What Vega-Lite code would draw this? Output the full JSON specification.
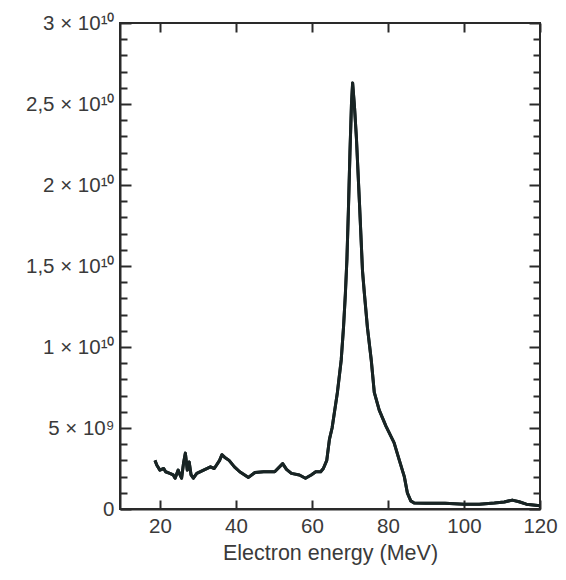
{
  "$schema": "https://vega.github.io/schema/vega-lite/v6.json",
  "autosize": {"type": "none"},
  "padding": {"left": 120, "top": 23, "right": 26, "bottom": 71},
  "width": 420,
  "height": 486,
  "background": "white",
  "config": {
    "view": {"stroke": "#2a2a2a", "strokeWidth": 2},
    "axis": {
      "domainColor": "#2a2a2a",
      "domainWidth": 2,
      "tickColor": "#2a2a2a",
      "tickWidth": 2,
      "grid": false,
      "labelFont": "Liberation Sans",
      "titleFont": "Liberation Sans",
      "labelColor": "#3a3a3a",
      "titleColor": "#3a3a3a",
      "labelFontSize": 20.5,
      "titleFontSize": 21.5,
      "titleFontWeight": "normal"
    }
  },
  "data": {
    "values": [
      {"energy": 18.7, "count": 3.0e9},
      {"energy": 19.2, "count": 2.7e9},
      {"energy": 20.0, "count": 2.4e9},
      {"energy": 21.0, "count": 2.5e9},
      {"energy": 21.5, "count": 2.3e9},
      {"energy": 22.6, "count": 2.2e9},
      {"energy": 23.5, "count": 2.1e9},
      {"energy": 24.0, "count": 1.9e9},
      {"energy": 24.8, "count": 2.4e9},
      {"energy": 25.3, "count": 2.1e9},
      {"energy": 25.7, "count": 1.9e9},
      {"energy": 26.2, "count": 2.8e9},
      {"energy": 26.7, "count": 3.45e9},
      {"energy": 27.2, "count": 2.4e9},
      {"energy": 27.7, "count": 2.9e9},
      {"energy": 28.2, "count": 2.1e9},
      {"energy": 28.8, "count": 1.9e9},
      {"energy": 29.7, "count": 2.2e9},
      {"energy": 31.5, "count": 2.4e9},
      {"energy": 33.3, "count": 2.6e9},
      {"energy": 34.3, "count": 2.5e9},
      {"energy": 35.7, "count": 3.0e9},
      {"energy": 36.3, "count": 3.35e9},
      {"energy": 37.0, "count": 3.2e9},
      {"energy": 38.2, "count": 3.0e9},
      {"energy": 39.6, "count": 2.6e9},
      {"energy": 41.0, "count": 2.3e9},
      {"energy": 42.3, "count": 2.1e9},
      {"energy": 43.3, "count": 1.95e9},
      {"energy": 45.0, "count": 2.25e9},
      {"energy": 47.3, "count": 2.3e9},
      {"energy": 50.2, "count": 2.3e9},
      {"energy": 52.3, "count": 2.8e9},
      {"energy": 53.3, "count": 2.45e9},
      {"energy": 54.6, "count": 2.2e9},
      {"energy": 56.7, "count": 2.1e9},
      {"energy": 58.3, "count": 1.9e9},
      {"energy": 59.8, "count": 2.1e9},
      {"energy": 61.0, "count": 2.3e9},
      {"energy": 62.3, "count": 2.3e9},
      {"energy": 63.0, "count": 2.5e9},
      {"energy": 63.9, "count": 3.0e9},
      {"energy": 64.6, "count": 4.3e9},
      {"energy": 65.3, "count": 5.0e9},
      {"energy": 66.7, "count": 7.2e9},
      {"energy": 67.7, "count": 9.2e9},
      {"energy": 68.3, "count": 1.12e10},
      {"energy": 68.8, "count": 1.33e10},
      {"energy": 69.2, "count": 1.54e10},
      {"energy": 69.6, "count": 1.85e10},
      {"energy": 70.0, "count": 2.2e10},
      {"energy": 70.4, "count": 2.5e10},
      {"energy": 70.7, "count": 2.63e10},
      {"energy": 71.2, "count": 2.48e10},
      {"energy": 71.7, "count": 2.29e10},
      {"energy": 72.5, "count": 1.89e10},
      {"energy": 73.3, "count": 1.47e10},
      {"energy": 73.8, "count": 1.33e10},
      {"energy": 74.6, "count": 1.12e10},
      {"energy": 75.6, "count": 9.2e9},
      {"energy": 76.4, "count": 7.2e9},
      {"energy": 77.7, "count": 6.1e9},
      {"energy": 79.5, "count": 5.1e9},
      {"energy": 81.6, "count": 4.1e9},
      {"energy": 83.0, "count": 3.0e9},
      {"energy": 84.3, "count": 2.0e9},
      {"energy": 85.1, "count": 1.0e9},
      {"energy": 86.0, "count": 5.0e8},
      {"energy": 86.9, "count": 3.7e8},
      {"energy": 90.0, "count": 3.5e8},
      {"energy": 95.0, "count": 3.5e8},
      {"energy": 100.0, "count": 3.0e8},
      {"energy": 104.0, "count": 3.0e8},
      {"energy": 108.0, "count": 3.7e8},
      {"energy": 110.6, "count": 4.3e8},
      {"energy": 112.7, "count": 5.5e8},
      {"energy": 114.5, "count": 4.5e8},
      {"energy": 116.4, "count": 3.0e8},
      {"energy": 120.0, "count": 2.0e8}
    ]
  },
  "resolve": {"axis": {"x": "independent", "y": "independent"}},
  "layer": [
    {
      "mark": {"type": "line", "color": "#182424", "strokeWidth": 3, "strokeJoin": "round"},
      "encoding": {
        "x": {
          "field": "energy", "type": "quantitative",
          "scale": {"domain": [9.5, 120], "nice": false, "zero": false},
          "axis": {
            "orient": "bottom",
            "title": "Electron energy (MeV)",
            "values": [20, 40, 60, 80, 100, 120],
            "tickSize": -9,
            "labelPadding": 16,
            "labelFlush": false,
            "labelOverlap": false,
            "titlePadding": 6
          }
        },
        "y": {
          "field": "count", "type": "quantitative",
          "scale": {"domain": [0, 30000000000], "nice": false},
          "axis": {
            "orient": "left",
            "title": null,
            "values": [0, 1000000000, 2000000000, 3000000000, 4000000000, 5000000000, 6000000000, 7000000000, 8000000000, 9000000000, 10000000000, 11000000000, 12000000000, 13000000000, 14000000000, 15000000000, 16000000000, 17000000000, 18000000000, 19000000000, 20000000000, 21000000000, 22000000000, 23000000000, 24000000000, 25000000000, 26000000000, 27000000000, 28000000000, 29000000000, 30000000000],
            "tickSize": {"condition": {"test": "datum.value % 5000000000 === 0", "value": -11}, "value": -7},
            "labelPadding": 17,
            "labelFlush": false,
            "labelOverlap": false,
            "labelExpr": "datum.value == 0 ? '0' : datum.value == 5000000000 ? '5 × 10⁹' : datum.value == 10000000000 ? '1 × 10¹⁰' : datum.value == 15000000000 ? '1,5 × 10¹⁰' : datum.value == 20000000000 ? '2 × 10¹⁰' : datum.value == 25000000000 ? '2,5 × 10¹⁰' : datum.value == 30000000000 ? '3 × 10¹⁰' : ''"
          }
        }
      }
    },
    {
      "mark": {"type": "line", "color": "#182424", "strokeWidth": 3, "strokeJoin": "round"},
      "encoding": {
        "x": {
          "field": "energy", "type": "quantitative",
          "axis": {
            "orient": "top",
            "title": null,
            "labels": false,
            "domain": false,
            "values": [20, 40, 60, 80, 100, 120],
            "tickSize": -9
          }
        },
        "y": {
          "field": "count", "type": "quantitative",
          "axis": {
            "orient": "right",
            "title": null,
            "labels": false,
            "domain": false,
            "values": [0, 1000000000, 2000000000, 3000000000, 4000000000, 5000000000, 6000000000, 7000000000, 8000000000, 9000000000, 10000000000, 11000000000, 12000000000, 13000000000, 14000000000, 15000000000, 16000000000, 17000000000, 18000000000, 19000000000, 20000000000, 21000000000, 22000000000, 23000000000, 24000000000, 25000000000, 26000000000, 27000000000, 28000000000, 29000000000, 30000000000],
            "tickSize": {"condition": {"test": "datum.value % 5000000000 === 0", "value": -11}, "value": -7}
          }
        }
      }
    }
  ]
}
